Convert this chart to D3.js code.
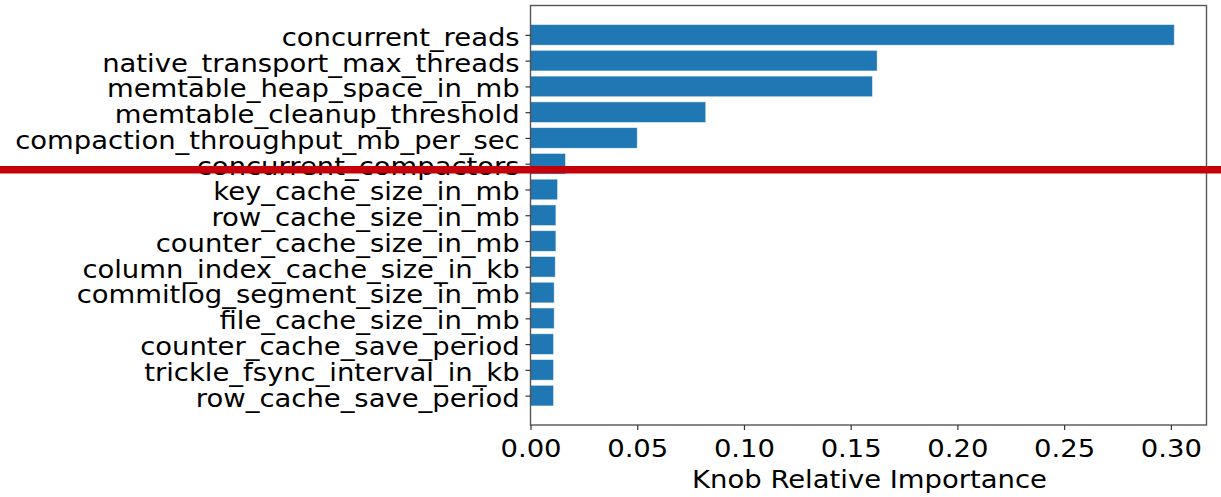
<!DOCTYPE html>
<html><head><meta charset="utf-8">
<script src="https://cdn.jsdelivr.net/npm/d3@7/dist/d3.min.js"></script>
<style>body{margin:0;background:#fff;}svg{display:block;}</style>
</head><body>
<svg id="chart" width="1221" height="497"></svg>
<script>
const categories = ["concurrent_reads","native_transport_max_threads","memtable_heap_space_in_mb","memtable_cleanup_threshold","compaction_throughput_mb_per_sec","concurrent_compactors","key_cache_size_in_mb","row_cache_size_in_mb","counter_cache_size_in_mb","column_index_cache_size_in_kb","commitlog_segment_size_in_mb","file_cache_size_in_mb","counter_cache_save_period","trickle_fsync_interval_in_kb","row_cache_save_period"];
const values = [0.3016,0.1624,0.1602,0.0821,0.0500,0.0164,0.0127,0.0119,0.0119,0.0116,0.0111,0.0111,0.0108,0.0108,0.0108];
const xTicks = [0.00,0.05,0.10,0.15,0.20,0.25,0.30];
const xLabel = "Knob Relative Importance";

const svg = d3.select("#chart");
const L = 530.5, R = 1206.5, T = 5.5, B = 425;
const x = d3.scaleLinear().domain([0, 0.3167]).range([L, R]);
const n = categories.length;
const y = d3.scaleLinear().domain([-1.14, n - 1 + 1.14]).range([T, B]);
const font = "DejaVu Sans";
const fs = 25.3;
const sx = "scale(1.085,1)";

svg.append("g").selectAll("rect").data(values).join("rect")
  .attr("x", x(0)).attr("y", (d,i) => y(i - 0.4))
  .attr("width", d => x(d) - x(0)).attr("height", y(0.4) - y(-0.4))
  .attr("fill", "#1f77b4").attr("stroke", "#ffffff").attr("stroke-opacity", 0.6).attr("stroke-width", 0.8);

// frame
svg.append("rect").attr("x", L).attr("y", T).attr("width", R - L).attr("height", B - T)
  .attr("fill", "none").attr("stroke", "#555").attr("stroke-width", 1.4);

// y axis
const yAxis = d3.axisLeft(y).tickValues(d3.range(n)).tickFormat(i => categories[i]).tickSize(5).tickPadding(5);
const gy = svg.append("g").attr("transform", `translate(${L},0)`).call(yAxis);
gy.select(".domain").remove();
gy.selectAll(".tick line").attr("stroke", "#333").attr("stroke-width", 1.2);
gy.selectAll(".tick text").attr("font-family", font).attr("font-size", fs).attr("fill", "#000")
  .attr("dy", "0.41em").attr("transform", sx);

// x axis
const xAxis = d3.axisBottom(x).tickValues(xTicks).tickFormat(d3.format(".2f")).tickSize(5).tickPadding(6);
const gx = svg.append("g").attr("transform", `translate(0,${B})`).call(xAxis);
gx.select(".domain").remove();
gx.selectAll(".tick line").attr("stroke", "#333").attr("stroke-width", 1.2);
gx.selectAll(".tick text").attr("font-family", font).attr("font-size", fs).attr("fill", "#000")
  .attr("y", 31.7).attr("dy", 0).attr("transform", sx);

svg.append("g").attr("transform", `translate(${(L + R) / 2 + 1},488.3)`)
  .append("text").attr("text-anchor", "middle").attr("transform", sx)
  .attr("font-family", font).attr("font-size", fs).attr("fill", "#000").text(xLabel);

// red horizontal rule
svg.append("rect").attr("x", 0).attr("y", 166).attr("width", 1221).attr("height", 7.5).attr("fill", "#c4000b");
</script>
</body></html>
